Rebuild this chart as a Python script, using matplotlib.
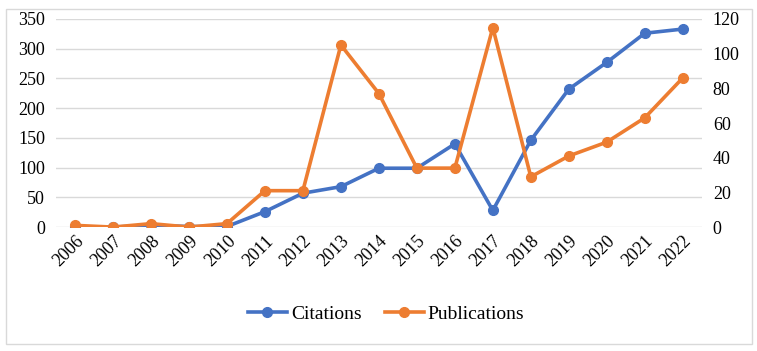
import matplotlib
matplotlib.use("Agg")
import matplotlib.pyplot as plt
from matplotlib.patches import Rectangle

plt.rcParams['font.family'] = ['Liberation Serif', 'DejaVu Serif']

years = [str(y) for y in range(2006, 2023)]
citations = [0, 0, 3, 1, 1, 26, 57, 68, 99, 99, 140, 28, 146, 232, 277, 326, 333]
publications = [1, 0, 2, 0, 2, 21, 21, 105, 77, 34, 34, 115, 29, 41, 49, 63, 86]

blue = '#4472C4'
orange = '#ED7D31'

fig = plt.figure(figsize=(7.57, 3.51), dpi=100)
# chart border
fig.patches.append(Rectangle((0.008, 0.02), 0.985, 0.955, transform=fig.transFigure,
                             fill=False, edgecolor='#D9D9D9', linewidth=1))

ax = fig.add_axes([0.074, 0.353, 0.853, 0.593])
ax2 = ax.twinx()

x = list(range(len(years)))
l1, = ax.plot(x, citations, color=blue, lw=2.6, marker='o', ms=7, label='Citations', zorder=3)
l2, = ax2.plot(x, publications, color=orange, lw=2.6, marker='o', ms=7, label='Publications', zorder=3)

ax.set_xlim(-0.5, len(years) - 0.5)
ax.set_ylim(0, 350)
ax.set_yticks(range(0, 351, 50))
ax2.set_ylim(0, 120)
ax2.set_yticks(range(0, 121, 20))

ax.set_xticks(x)
ax.set_xticklabels(years, rotation=45, ha='right', rotation_mode='anchor')

ax.grid(axis='y', color='#D9D9D9', lw=1)
ax.set_axisbelow(True)
for a in (ax, ax2):
    for s in a.spines.values():
        s.set_visible(False)
    a.tick_params(length=0, labelsize=13, colors='black', pad=8)
ax.tick_params(axis='x', pad=4)

fig.legend([l1, l2], ['Citations', 'Publications'], loc='center', bbox_to_anchor=(0.51, 0.105),
           ncol=2, frameon=False, fontsize=14, handlelength=2.0, columnspacing=1.2, handletextpad=0.2)

fig.savefig('out.png', dpi=100)
